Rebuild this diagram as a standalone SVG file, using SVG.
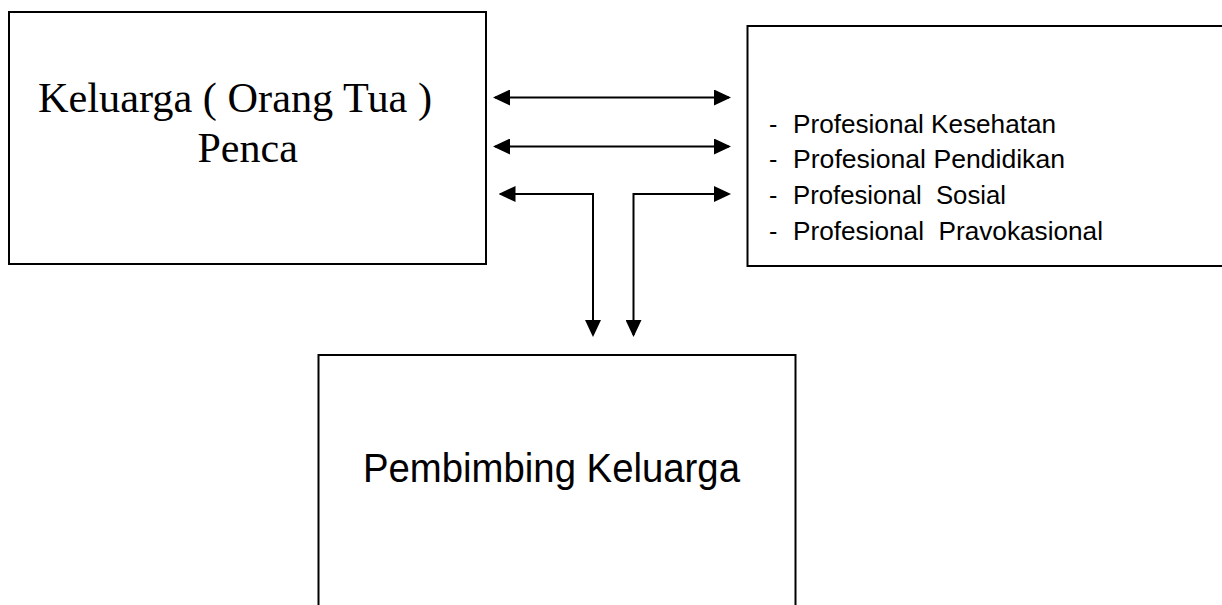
<svg xmlns="http://www.w3.org/2000/svg" width="1222" height="605" viewBox="0 0 1222 605">
  <style>
    .box { fill: #fff; stroke: #000; stroke-width: 2; }
    .link { fill: none; stroke: #000; stroke-width: 2; }
    .serif { font-family: "Liberation Serif", "Times New Roman", serif; fill: #000; }
    .sans { font-family: "Liberation Sans", Arial, sans-serif; fill: #000; }
    .pre { white-space: pre; }
  </style>
  <defs>
    <marker id="head" markerUnits="userSpaceOnUse" markerWidth="17" markerHeight="16" viewBox="0 0 17 16" refX="15" refY="8" orient="auto-start-reverse">
      <path d="M0,0 L17,8 L0,16 z" fill="#000"/>
    </marker>
  </defs>
  <rect width="1222" height="605" fill="#fff"/>

  <g id="keluarga">
    <rect class="box" x="9" y="12" width="477" height="252"/>
    <text class="serif" font-size="42" x="38" y="111.5" textLength="394" lengthAdjust="spacingAndGlyphs">Keluarga ( Orang Tua )</text>
    <text class="serif" font-size="42" x="197.5" y="161.5">Penca</text>
  </g>

  <g id="profesional">
    <rect class="box" x="747.5" y="26" width="480" height="240"/>
    <g class="sans" font-size="25">
      <text x="769" y="132.5">-</text>
      <text x="793" y="132.5" textLength="263" lengthAdjust="spacingAndGlyphs">Profesional Kesehatan</text>
      <text x="769" y="168">-</text>
      <text x="793" y="168" textLength="272" lengthAdjust="spacingAndGlyphs">Profesional Pendidikan</text>
      <text x="769" y="204">-</text>
      <text class="pre" x="793" y="204" textLength="213" lengthAdjust="spacingAndGlyphs">Profesional  Sosial</text>
      <text x="769" y="239.5">-</text>
      <text class="pre" x="793" y="239.5" textLength="310" lengthAdjust="spacingAndGlyphs">Profesional  Pravokasional</text>
    </g>
  </g>

  <g id="pembimbing">
    <rect class="box" x="318.5" y="355" width="477" height="270"/>
    <text class="sans" font-size="40" x="363" y="482" textLength="377" lengthAdjust="spacingAndGlyphs">Pembimbing Keluarga</text>
  </g>

  <g id="connectors">
    <path class="link" d="M495,97.5 H729" marker-start="url(#head)" marker-end="url(#head)"/>
    <path class="link" d="M495,146.5 H729" marker-start="url(#head)" marker-end="url(#head)"/>
    <path class="link" d="M500.5,194 H593 V335" marker-start="url(#head)" marker-end="url(#head)"/>
    <path class="link" d="M729,194 H633.5 V335" marker-start="url(#head)" marker-end="url(#head)"/>
  </g>
</svg>
